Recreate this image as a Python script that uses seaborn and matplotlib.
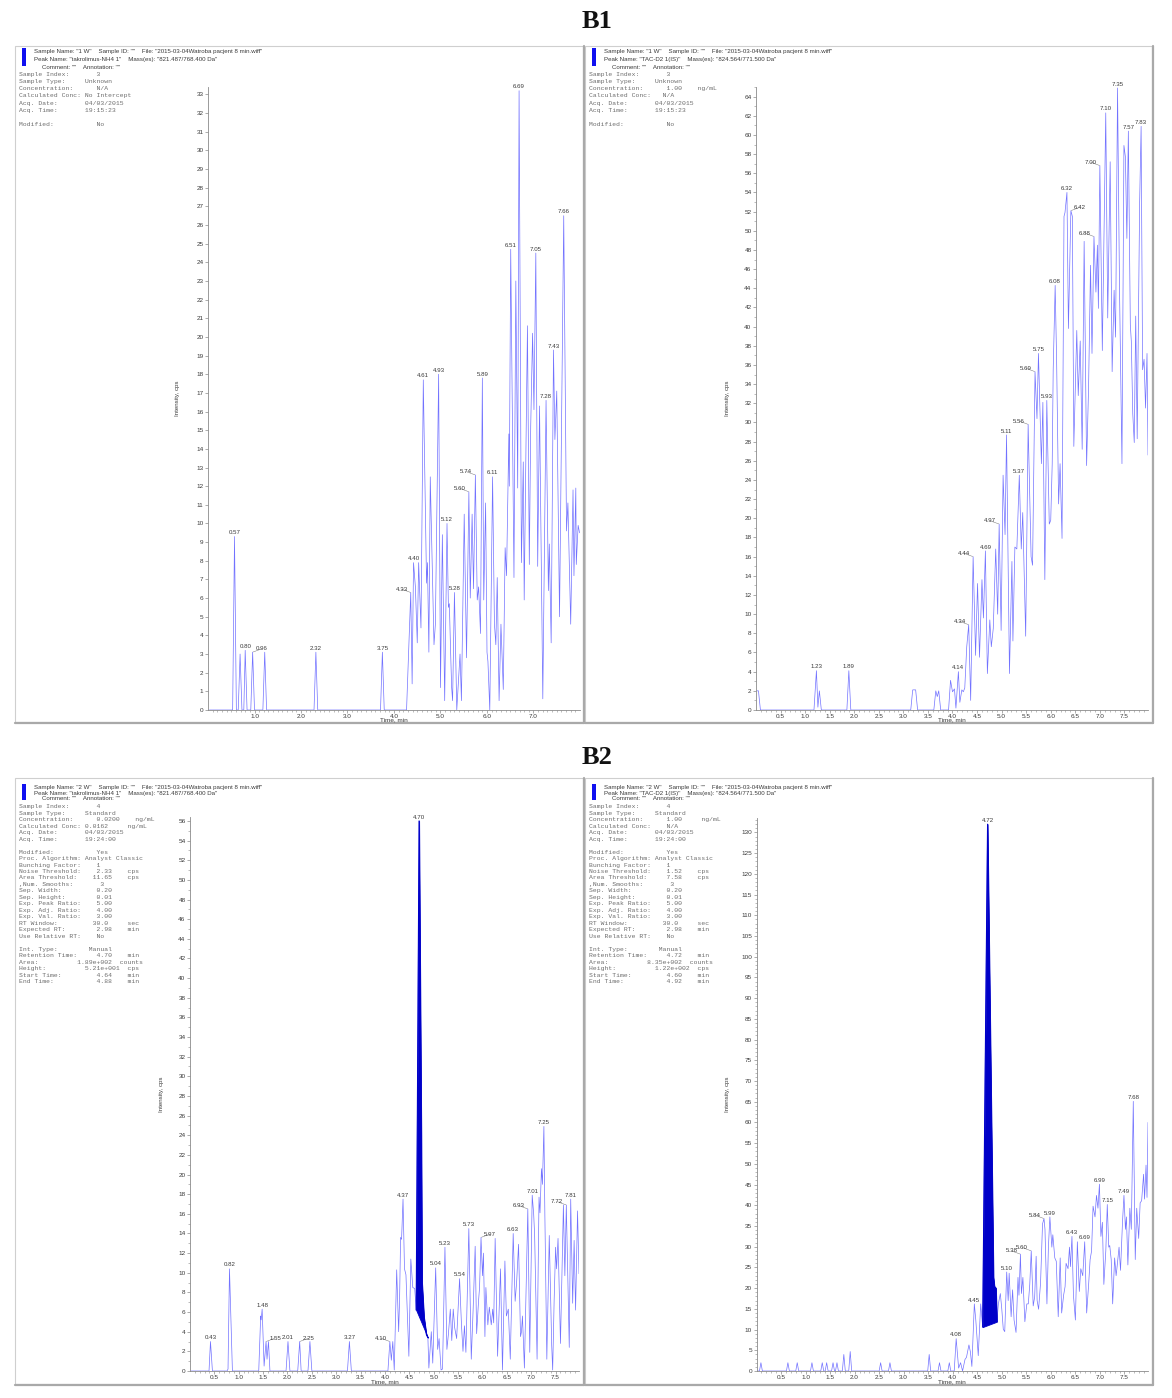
import numpy as np
import pandas as pd
import matplotlib
matplotlib.use("Agg")
import matplotlib.pyplot as plt
import seaborn as sns
from matplotlib.patches import Rectangle
from matplotlib.lines import Line2D

# ---------------- DATA ----------------
# B1 left: takrolimus-NH4 1 (821.487/768.400)
b1l_time = [0.03, 0.53, 0.57, 0.61, 0.65, 0.69, 0.73, 0.77, 0.80, 0.84, 0.92, 0.96, 1.00, 1.18, 1.22, 1.26,
            2.28, 2.32, 2.36, 3.71, 3.75, 3.79, 4.27, 4.36, 4.39, 4.42, 4.46, 4.50, 4.53, 4.58, 4.63, 4.70,
            4.72, 4.75, 4.78, 4.86, 4.89, 4.96, 5.00, 5.04, 5.09, 5.14, 5.17, 5.19, 5.22, 5.24, 5.26, 5.30,
            5.35, 5.42, 5.45, 5.51, 5.56, 5.61, 5.64, 5.68, 5.71, 5.75, 5.79, 5.82, 5.86, 5.90, 5.93, 5.97,
            6.00, 6.02, 6.06, 6.12, 6.16, 6.19, 6.22, 6.26, 6.30, 6.35, 6.39, 6.42, 6.47, 6.48, 6.51, 6.58,
            6.62, 6.66, 6.69, 6.74, 6.78, 6.80, 6.84, 6.87, 6.91, 6.94, 6.98, 7.01, 7.05, 7.09, 7.13, 7.20,
            7.27, 7.32, 7.34, 7.38, 7.43, 7.46, 7.50, 7.56, 7.65, 7.71, 7.74, 7.80, 7.85, 7.87, 7.91, 7.92,
            7.96, 7.99]
b1l_int = [0.0, 0.0, 9.3, 0.0, 0.0, 3.0, 0.0, 0.0, 3.2, 0.0, 0.0, 3.1, 0.0, 0.0, 3.1, 0.0,
           0.0, 3.1, 0.0, 0.0, 3.1, 0.0, 0.0, 6.3, 1.4, 7.9, 6.6, 3.6, 7.9, 4.4, 17.7, 6.8,
           7.9, 3.1, 12.5, 3.5, 4.6, 18.0, 1.2, 9.4, 0.5, 10.0, 5.5, 5.7, 2.9, 1.2, 0.5, 6.3,
           0.0, 3.0, 0.5, 10.5, 2.8, 11.7, 6.0, 10.5, 6.5, 12.6, 5.9, 6.6, 4.1, 17.8, 5.9, 11.1,
           3.1, 2.6, 0.0, 12.5, 4.6, 3.5, 7.1, 0.5, 4.6, 1.1, 8.7, 7.2, 14.8, 12.0, 24.7, 7.1,
           23.0, 11.9, 33.2, 7.9, 13.3, 5.9, 14.5, 20.6, 7.8, 15.2, 20.2, 16.1, 24.5, 7.7, 16.3, 0.6,
           16.6, 6.4, 8.9, 3.6, 19.3, 14.5, 17.1, 5.0, 26.5, 9.6, 11.1, 4.6, 11.8, 7.2, 11.9, 7.8,
           9.9, 9.5]
b1l_labels = ["0.57", "0.80", "0.96", "2.32", "3.75", "4.33", "4.40", "4.61", "4.93", "5.12", "5.28",
              "5.60", "5.74", "5.89", "6.11", "6.51", "6.69", "7.05", "7.28", "7.43", "7.66"]

# B1 right: TAC-D2 1(IS) (824.564/771.500)
b1r_time = [0.02, 0.05, 0.09, 1.18, 1.23, 1.26, 1.29, 1.33, 1.85, 1.89, 1.93, 3.15, 3.19, 3.25, 3.29, 3.62,
            3.66, 3.69, 3.72, 3.76, 3.92, 3.96, 4.00, 4.04, 4.07, 4.12, 4.15, 4.19, 4.22, 4.25, 4.29, 4.33,
            4.37, 4.42, 4.47, 4.51, 4.55, 4.60, 4.63, 4.67, 4.71, 4.76, 4.79, 4.83, 4.88, 4.92, 4.95, 4.99,
            5.03, 5.07, 5.10, 5.16, 5.21, 5.23, 5.27, 5.31, 5.36, 5.40, 5.43, 5.49, 5.54, 5.60, 5.63, 5.68,
            5.72, 5.75, 5.81, 5.84, 5.88, 5.92, 5.97, 6.00, 6.03, 6.05, 6.09, 6.12, 6.16, 6.19, 6.23, 6.27,
            6.29, 6.33, 6.36, 6.41, 6.44, 6.47, 6.53, 6.56, 6.60, 6.64, 6.68, 6.73, 6.77, 6.81, 6.84, 6.88,
            6.92, 6.95, 6.97, 7.00, 7.05, 7.12, 7.16, 7.21, 7.25, 7.29, 7.32, 7.36, 7.40, 7.45, 7.49, 7.52,
            7.55, 7.58, 7.62, 7.64, 7.67, 7.70, 7.73, 7.76, 7.81, 7.84, 7.87, 7.90, 7.93, 7.96, 7.98]
b1r_int = [2.0, 2.0, 0.0, 0.0, 4.1, 0.3, 2.0, 0.0, 0.0, 4.1, 0.0, 0.0, 2.1, 2.1, 0.0, 0.0,
           2.0, 1.4, 2.0, 0.0, 0.0, 3.1, 1.9, 2.2, 0.2, 4.0, 0.8, 2.1, 1.9, 2.3, 6.6, 8.9,
           1.0, 16.0, 5.7, 13.2, 5.5, 13.6, 9.6, 16.6, 3.8, 9.4, 6.6, 8.5, 16.8, 10.0, 19.4, 8.3,
           24.5, 18.3, 28.7, 3.8, 15.5, 7.2, 17.0, 16.8, 24.5, 16.8, 20.6, 7.7, 29.8, 16.0, 15.1, 35.3,
           30.4, 37.2, 25.7, 32.1, 13.6, 32.3, 19.4, 19.8, 25.7, 35.5, 44.3, 36.4, 21.5, 25.7, 17.9, 51.5,
           51.9, 54.0, 39.8, 52.1, 51.5, 27.5, 39.6, 32.8, 38.5, 27.2, 48.9, 25.5, 33.6, 46.4, 37.2, 49.4,
           43.6, 48.5, 41.9, 56.8, 37.5, 62.3, 40.9, 57.2, 35.3, 43.8, 38.9, 64.9, 44.0, 25.7, 58.9, 57.7,
           49.2, 60.4, 40.2, 38.5, 30.9, 27.9, 41.1, 28.3, 53.0, 60.9, 35.5, 36.6, 31.5, 37.2, 26.6]
b1r_labels = ["1.23", "1.89", "4.14", "4.34", "4.44", "4.69", "4.97", "5.11", "5.37", "5.56", "5.69",
              "5.75", "5.93", "6.08", "6.32", "6.42", "6.88", "7.00", "7.10", "7.35", "7.57", "7.83"]

# B2 left: takrolimus-NH4 1
b2l_time = [0.02, 0.39, 0.42, 0.46, 0.76, 0.78, 0.81, 0.87, 1.41, 1.45, 1.46, 1.48, 1.52, 1.56, 1.58, 1.61,
            1.64, 1.97, 2.01, 2.05, 2.21, 2.25, 2.28, 2.42, 2.46, 2.50, 3.23, 3.27, 3.31, 4.06, 4.10, 4.13,
            4.16, 4.19, 4.24, 4.28, 4.30, 4.32, 4.34, 4.37, 4.40, 4.43, 4.49, 4.53, 4.57, 4.61, 4.64, 4.70,
            4.745, 4.76, 4.80, 4.85, 4.88, 4.90, 4.95, 4.98, 5.04, 5.08, 5.11, 5.15, 5.18, 5.23, 5.27, 5.30,
            5.34, 5.37, 5.40, 5.43, 5.47, 5.53, 5.57, 5.60, 5.63, 5.66, 5.72, 5.77, 5.81, 5.85, 5.88, 5.92,
            5.94, 5.97, 6.00, 6.02, 6.05, 6.07, 6.11, 6.14, 6.18, 6.21, 6.23, 6.26, 6.31, 6.37, 6.41, 6.46,
            6.49, 6.53, 6.57, 6.63, 6.67, 6.70, 6.74, 6.78, 6.80, 6.82, 6.86, 6.93, 6.97, 7.02, 7.05, 7.07,
            7.12, 7.16, 7.18, 7.21, 7.23, 7.26, 7.28, 7.32, 7.37, 7.42, 7.44, 7.47, 7.50, 7.52, 7.55, 7.60,
            7.66, 7.69, 7.72, 7.78, 7.81, 7.85, 7.88, 7.91, 7.95, 7.98]
b2l_int = [0.0, 0.0, 3.0, 0.0, 0.0, 0.2, 10.4, 0.0, 0.0, 5.6, 5.2, 6.3, 0.5, 3.0, 1.2, 3.0,
           0.0, 0.0, 3.0, 0.0, 0.0, 3.0, 0.0, 0.0, 3.0, 0.0, 0.0, 3.0, 0.0, 0.0, 3.0, 1.1,
           3.0, 0.1, 10.3, 4.0, 7.4, 13.6, 13.4, 17.5, 10.4, 9.8, 1.5, 11.4, 8.5, 8.4, 6.2, 56.0,
           24.0, 9.0, 5.5, 3.7, 3.4, 0.3, 4.0, 0.8, 10.5, 2.2, 3.3, 0.1, 0.2, 12.6, 2.2, 3.7,
           6.3, 3.1, 6.3, 4.4, 3.3, 9.4, 4.6, 2.0, 4.6, 1.9, 14.5, 1.2, 6.5, 12.7, 3.8, 7.2,
           8.5, 13.6, 9.7, 12.0, 3.5, 8.5, 4.7, 6.5, 4.7, 6.3, 4.9, 13.5, 1.5, 10.4, 0.1, 11.2,
           5.6, 6.3, 1.2, 14.0, 7.1, 9.0, 12.9, 3.5, 4.0, 5.6, 0.3, 16.5, 1.9, 17.9, 16.0, 13.8,
           1.2, 17.7, 16.1, 20.6, 19.0, 24.9, 15.8, 1.2, 13.8, 2.6, 0.1, 7.2, 12.6, 10.4, 13.5, 2.8,
           16.9, 9.7, 16.9, 2.4, 17.5, 6.9, 13.3, 6.2, 16.3, 9.9]
b2l_labels = ["0.43", "0.82", "1.48", "1.55", "2.01", "2.25", "3.27", "4.10", "4.37", "4.70", "5.04",
              "5.23", "5.54", "5.73", "5.97", "6.63", "6.93", "7.01", "7.25", "7.72", "7.81"]
b2l_area = [4.64, 4.88]   # integration start / end, min

# B2 right: TAC-D2 1(IS)
b2r_time = [0.02, 0.06, 0.09, 0.12, 0.61, 0.64, 0.67, 0.80, 0.83, 0.86, 1.10, 1.13, 1.16, 1.31, 1.34, 1.37,
            1.40, 1.43, 1.46, 1.53, 1.56, 1.59, 1.61, 1.64, 1.67, 1.75, 1.78, 1.81, 1.88, 1.91, 1.94, 2.50,
            2.53, 2.56, 2.69, 2.72, 2.75, 3.49, 3.52, 3.55, 3.70, 3.73, 3.76, 3.90, 3.93, 3.96, 4.03, 4.07,
            4.12, 4.16, 4.20, 4.25, 4.28, 4.33, 4.36, 4.39, 4.44, 4.47, 4.52, 4.57, 4.61, 4.71, 4.83, 4.85,
            4.88, 4.90, 4.93, 4.97, 5.00, 5.03, 5.06, 5.10, 5.13, 5.15, 5.19, 5.22, 5.25, 5.29, 5.33, 5.35,
            5.38, 5.40, 5.43, 5.47, 5.51, 5.54, 5.57, 5.60, 5.64, 5.67, 5.70, 5.72, 5.75, 5.79, 5.83, 5.86,
            5.88, 5.92, 5.95, 5.98, 6.02, 6.04, 6.08, 6.11, 6.15, 6.19, 6.22, 6.26, 6.29, 6.31, 6.35, 6.38,
            6.40, 6.43, 6.46, 6.50, 6.54, 6.58, 6.61, 6.65, 6.69, 6.73, 6.77, 6.80, 6.83, 6.86, 6.90, 6.93,
            6.96, 6.99, 7.02, 7.05, 7.08, 7.12, 7.15, 7.18, 7.20, 7.23, 7.26, 7.30, 7.33, 7.35, 7.39, 7.42,
            7.46, 7.49, 7.52, 7.54, 7.57, 7.61, 7.64, 7.68, 7.72, 7.75, 7.79, 7.82, 7.85, 7.89, 7.91, 7.94,
            7.96, 7.98]
b2r_int = [0.0, 0.0, 2.0, 0.0, 0.0, 2.0, 0.0, 0.0, 2.0, 0.0, 0.0, 2.0, 0.0, 0.0, 2.0, 0.0,
           0.0, 2.0, 0.0, 0.0, 2.0, 0.0, 0.0, 2.0, 0.0, 0.0, 4.0, 0.0, 0.0, 4.7, 0.0, 0.0,
           2.0, 0.0, 0.0, 2.0, 0.0, 0.0, 4.0, 0.0, 0.0, 2.0, 0.0, 0.0, 2.0, 0.0, 0.0, 7.8,
           0.7, 2.0, 0.0, 2.8, 3.3, 6.3, 4.6, 1.1, 16.2, 12.3, 3.7, 16.2, 10.6, 132.0, 22.6, 20.4,
           20.0, 11.9, 16.2, 18.7, 14.9, 10.1, 9.5, 23.9, 17.0, 23.6, 13.1, 19.6, 12.3, 9.3, 22.6, 18.3,
           28.2, 18.7, 22.6, 11.9, 16.2, 16.2, 20.9, 29.0, 15.7, 17.9, 27.7, 17.0, 14.9, 21.3, 35.5, 36.8,
           34.2, 16.2, 29.9, 37.2, 29.9, 32.9, 27.3, 26.5, 13.1, 27.3, 14.0, 18.3, 20.4, 26.0, 24.7, 29.9,
           25.2, 32.5, 18.3, 12.3, 31.2, 19.2, 24.7, 23.0, 31.2, 14.0, 20.9, 26.9, 29.0, 39.8, 37.2, 42.4,
           39.3, 45.1, 32.5, 35.9, 20.9, 29.0, 40.2, 29.9, 30.3, 26.9, 16.2, 27.3, 23.0, 25.2, 29.9, 24.3,
           35.9, 42.4, 34.2, 37.2, 25.6, 39.3, 34.2, 65.1, 26.9, 39.3, 32.0, 40.6, 41.1, 47.5, 41.5, 49.7,
           41.9, 60.0]
b2r_labels = ["4.08", "4.45", "4.72", "5.10", "5.38", "5.60", "5.84", "5.99", "6.43", "6.69", "6.99",
              "7.15", "7.49", "7.68"]
b2r_area = [4.61, 4.90]

# labels drawn with a leader to the left / right of their peak
leader_left_of_peak = {"4.33", "5.60", "5.74", "4.34", "4.44", "4.97", "5.56", "5.69", "6.88", "7.00",
                       "4.10", "6.93", "7.72", "5.38", "5.84"}
leader_right_of_peak = {"0.96", "6.42", "1.55", "2.25", "5.97"}

# header texts
hdr_b1l = ['Sample Name: "1 W"    Sample ID: ""    File: "2015-03-04Watroba pacjent 8 min.wiff"',
           'Peak Name: "takrolimus-NH4 1"    Mass(es): "821.487/768.400 Da"',
           'Comment: ""    Annotation: ""']
hdr_b1r = ['Sample Name: "1 W"    Sample ID: ""    File: "2015-03-04Watroba pacjent 8 min.wiff"',
           'Peak Name: "TAC-D2 1(IS)"    Mass(es): "824.564/771.500 Da"',
           'Comment: ""    Annotation: ""']
hdr_b2l = ['Sample Name: "2 W"    Sample ID: ""    File: "2015-03-04Watroba pacjent 8 min.wiff"',
           'Peak Name: "takrolimus-NH4 1"    Mass(es): "821.487/768.400 Da"',
           'Comment: ""    Annotation: ""']
hdr_b2r = ['Sample Name: "2 W"    Sample ID: ""    File: "2015-03-04Watroba pacjent 8 min.wiff"',
           'Peak Name: "TAC-D2 1(IS)"    Mass(es): "824.564/771.500 Da"',
           'Comment: ""    Annotation: ""']

info_b1l = ["Sample Index:       3",
            "Sample Type:     Unknown",
            "Concentration:      N/A",
            "Calculated Conc: No Intercept",
            "Acq. Date:       04/03/2015",
            "Acq. Time:       19:15:23",
            "",
            "Modified:           No"]
info_b1r = ["Sample Index:       3",
            "Sample Type:     Unknown",
            "Concentration:      1.00    ng/mL",
            "Calculated Conc:   N/A",
            "Acq. Date:       04/03/2015",
            "Acq. Time:       19:15:23",
            "",
            "Modified:           No"]
info_b2_common = ["Modified:           Yes",
                  "Proc. Algorithm: Analyst Classic",
                  "Bunching Factor:    1"]
info_b2l = ["Sample Index:       4",
            "Sample Type:     Standard",
            "Concentration:      0.0200    ng/mL",
            "Calculated Conc: 0.0162     ng/mL",
            "Acq. Date:       04/03/2015",
            "Acq. Time:       19:24:00",
            ""] + info_b2_common + [
            "Noise Threshold:    2.33    cps",
            "Area Threshold:    11.65    cps",
            ",Num. Smooths:       3",
            "Sep. Width:         0.20",
            "Sep. Height:        0.01",
            "Exp. Peak Ratio:    5.00",
            "Exp. Adj. Ratio:    4.00",
            "Exp. Val. Ratio:    3.00",
            "RT Window:         30.0     sec",
            "Expected RT:        2.98    min",
            "Use Relative RT:    No",
            "",
            "Int. Type:        Manual",
            "Retention Time:     4.70    min",
            "Area:          1.89e+002  counts",
            "Height:          5.21e+001  cps",
            "Start Time:         4.64    min",
            "End Time:           4.88    min"]
info_b2r = ["Sample Index:       4",
            "Sample Type:     Standard",
            "Concentration:      1.00     ng/mL",
            "Calculated Conc:    N/A",
            "Acq. Date:       04/03/2015",
            "Acq. Time:       19:24:00",
            ""] + info_b2_common + [
            "Noise Threshold:    1.52    cps",
            "Area Threshold:     7.58    cps",
            ",Num. Smooths:       3",
            "Sep. Width:         0.20",
            "Sep. Height:        0.01",
            "Exp. Peak Ratio:    5.00",
            "Exp. Adj. Ratio:    4.00",
            "Exp. Val. Ratio:    3.00",
            "RT Window:         30.0     sec",
            "Expected RT:        2.98    min",
            "Use Relative RT:    No",
            "",
            "Int. Type:        Manual",
            "Retention Time:     4.72    min",
            "Area:          8.35e+002  counts",
            "Height:          1.22e+002  cps",
            "Start Time:         4.60    min",
            "End Time:           4.92    min"]

# ---------------- FIGURE ----------------
sns.set_theme(style="white")
plt.rcParams['font.family'] = ['Liberation Sans', 'DejaVu Sans']
plt.rcParams['axes.linewidth'] = 0.6

W, H = 1172, 1398
fig = plt.figure(figsize=(W / 100, H / 100), dpi=100)
fig.patch.set_facecolor("white")

TRACE = "#7272ff"
FILL = "#0000c8"
TXT = "#3a3a3a"
GRAY = "#8a8a8a"


def px(x):
    return x / W


def py(y):
    return 1 - y / H


def add_box(x0, y0, x1, y1):
    fig.add_artist(Rectangle((px(x0), py(y1)), px(x1) - px(x0), py(y0) - py(y1),
                             transform=fig.transFigure, fill=False, ec="#cfcfcf", lw=0.8))
    fig.add_artist(Line2D([px(x0), px(x1 + 1)], [py(y1 + 1), py(y1 + 1)], transform=fig.transFigure,
                          color="#a9a9a9", lw=1.6))
    fig.add_artist(Line2D([px(x1 + 1), px(x1 + 1)], [py(y0), py(y1 + 1)], transform=fig.transFigure,
                          color="#a9a9a9", lw=1.6))


def panel(times, ints, labels, box, axrect, xlim, ylim, xticks, ymajor, yminor,
          hdr, hdr_x, hdr_y, info, info_x, info_y0, info_dy, bar, ylab_x, xlab_y, area=None):
    add_box(*box)
    # header block
    fig.add_artist(Rectangle((px(bar[0]), py(bar[3])), px(bar[2]) - px(bar[0]), py(bar[1]) - py(bar[3]),
                             transform=fig.transFigure, fc="#1010f0", ec="none"))
    for line, xx, yy in zip(hdr, hdr_x, hdr_y):
        fig.text(px(xx), py(yy), line, fontsize=4.4, color=TXT, ha="left", va="center")
    for k, line in enumerate(info):
        if line:
            fig.text(px(info_x), py(info_y0 + k * info_dy), line, fontsize=4.6, color="#6e6e6e",
                     family="Liberation Mono", ha="left", va="center")

    x0, y0, x1, y1 = axrect
    ax = fig.add_axes([px(x0), py(y1), px(x1) - px(x0), py(y0) - py(y1)])
    df = pd.DataFrame({"time": times, "intensity": ints})
    sns.lineplot(data=df, x="time", y="intensity", ax=ax, color=TRACE, lw=0.5,
                 estimator=None, sort=False)
    t = np.asarray(times)
    v = np.asarray(ints)
    if area is not None:
        m = (t >= area[0] - 1e-9) & (t <= area[1] + 1e-9)
        ts, vs = t[m], v[m]
        base = vs[0] + (vs[-1] - vs[0]) * (ts - ts[0]) / (ts[-1] - ts[0])
        ax.fill_between(ts, base, vs, color=FILL, lw=0.6, zorder=3)
        ax.plot(ts, vs, color=FILL, lw=0.8, zorder=3)

    for lab in labels:
        tp = float(lab)
        idx = np.where(np.abs(t - tp) <= 0.036)[0]
        i = idx[np.argmax(v[idx])]
        xy = (t[i], v[i])
        kw = dict(fontsize=4.4, color=TXT, textcoords="offset points", va="bottom", zorder=5)
        if lab in leader_left_of_peak:
            ax.annotate(lab, xy, xytext=(-2.2, 0.6), ha="right",
                        arrowprops=dict(arrowstyle="-", lw=0.35, color="#777777", shrinkA=0, shrinkB=0.3),
                        **kw)
        elif lab in leader_right_of_peak:
            ax.annotate(lab, xy, xytext=(2.2, 0.6), ha="left",
                        arrowprops=dict(arrowstyle="-", lw=0.35, color="#777777", shrinkA=0, shrinkB=0.3),
                        **kw)
        else:
            ax.annotate(lab, xy, xytext=(0, 1.0), ha="center", **kw)

    ax.set_xlim(*xlim)
    ax.set_ylim(*ylim)
    ax.set_xticks(xticks)
    ax.set_xticklabels([f"{x:.1f}" for x in xticks])
    ax.set_xticks(np.arange(0.1, xlim[1], 0.1), minor=True)
    yt = np.arange(0, ylim[1] + 1e-9, ymajor)
    ax.set_yticks(yt)
    ax.set_yticklabels([f"{int(y)}" for y in yt])
    if yminor:
        ax.set_yticks(np.arange(0, ylim[1] + 1e-9, yminor), minor=True)
    ax.set_xlabel("")
    ax.set_ylabel("")
    for s in ["top", "right"]:
        ax.spines[s].set_visible(False)
    for s in ["left", "bottom"]:
        ax.spines[s].set_color(GRAY)
        ax.spines[s].set_linewidth(0.6)
    ax.tick_params(axis="both", which="major", direction="out", length=2.2, width=0.5, color=GRAY,
                   labelsize=4.6, labelcolor=TXT, pad=1.0, left=True, bottom=True)
    ax.tick_params(axis="both", which="minor", direction="out", length=1.1, width=0.4, color=GRAY,
                   left=True, bottom=True)
    ax.set_facecolor("white")
    ax.grid(False)
    fig.text(px(ylab_x), py((y0 + y1) / 2), "Intensity, cps", rotation=90, fontsize=4.4, color=TXT,
             ha="center", va="center")
    fig.text(px((x0 + x1) / 2), py(xlab_y), "Time, min", fontsize=4.6, color=TXT, ha="center", va="center")
    return ax


xt_half = np.arange(0.5, 7.51, 0.5)

panel(b1l_time, b1l_int, b1l_labels, box=(15, 46, 583, 722), axrect=(208, 87, 580, 710),
      xlim=(0, 8.0), ylim=(0, 33.4), xticks=np.arange(1.0, 7.01, 1.0), ymajor=1, yminor=None,
      hdr=hdr_b1l, hdr_x=(34, 34, 42), hdr_y=(51, 59.3, 67.3), info=info_b1l, info_x=19,
      info_y0=74.3, info_dy=7.2, bar=(22, 48, 25.5, 66), ylab_x=178, xlab_y=720)

panel(b1r_time, b1r_int, b1r_labels, box=(585, 46, 1152, 722), axrect=(756, 87, 1148, 710),
      xlim=(0, 7.98), ylim=(0, 65.0), xticks=xt_half, ymajor=2, yminor=1,
      hdr=hdr_b1r, hdr_x=(604, 604, 612), hdr_y=(51, 59.3, 67.3), info=info_b1r, info_x=589,
      info_y0=74.3, info_dy=7.2, bar=(592, 48, 595.5, 66), ylab_x=727, xlab_y=720)

panel(b2l_time, b2l_int, b2l_labels, box=(15, 778, 583, 1384), axrect=(190, 817, 579, 1371),
      xlim=(0, 7.98), ylim=(0, 56.4), xticks=xt_half, ymajor=2, yminor=1,
      hdr=hdr_b2l, hdr_x=(34, 34, 42), hdr_y=(787.7, 793.3, 799), info=info_b2l, info_x=19,
      info_y0=806.7, info_dy=6.48, bar=(22, 784, 26, 800), ylab_x=162, xlab_y=1382, area=b2l_area)

panel(b2r_time, b2r_int, b2r_labels, box=(585, 778, 1152, 1384), axrect=(756.5, 818, 1148, 1371),
      xlim=(0, 7.98), ylim=(0, 133.5), xticks=xt_half, ymajor=5, yminor=1,
      hdr=hdr_b2r, hdr_x=(604, 604, 612), hdr_y=(787.7, 793.3, 799), info=info_b2r, info_x=589,
      info_y0=806.7, info_dy=6.48, bar=(592, 784, 596, 800), ylab_x=728, xlab_y=1382, area=b2r_area)

fig.text(px(597), py(22), "B1", fontsize=19, fontweight="bold", family="Liberation Serif",
         ha="center", va="center", color="#111111")
fig.text(px(597), py(757), "B2", fontsize=19, fontweight="bold", family="Liberation Serif",
         ha="center", va="center", color="#111111")

fig.savefig("out.png", dpi=100, facecolor="white")
